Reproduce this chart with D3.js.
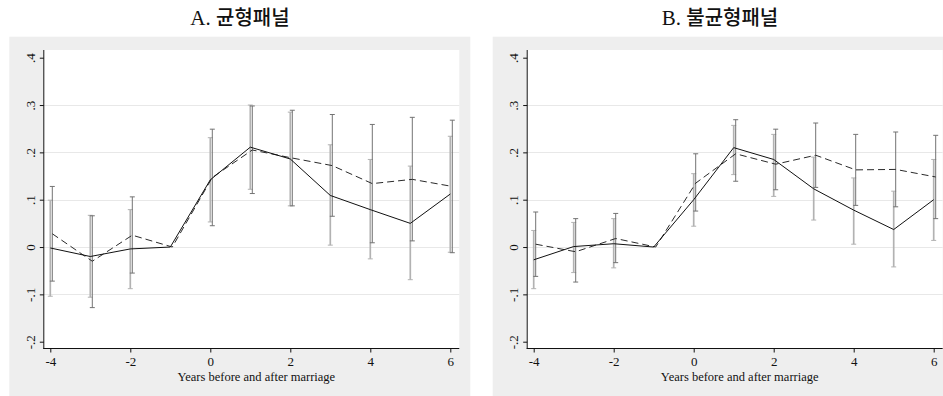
<!DOCTYPE html>
<html>
<head>
<meta charset="utf-8">
<script src="https://cdn.jsdelivr.net/npm/d3@7/dist/d3.min.js"></script>
<style>
  html, body { margin: 0; padding: 0; background: #ffffff; }
  svg { display: block; }
</style>
</head>
<body>
<svg id="chart" width="943" height="396"></svg>
<script>
// Event-study estimates around marriage (reference year = -1)
const years = [-4, -3, -2, -1, 0, 1, 2, 3, 4, 5, 6];
const xTickValues = [-4, -2, 0, 2, 4, 6];
const yTickValues = [-0.2, -0.1, 0, 0.1, 0.2, 0.3, 0.4];
const yTickLabels = ["-.2", "-.1", "0", ".1", ".2", ".3", ".4"];
const xAxisTitle = "Years before and after marriage";
const panelTitles = [["A. ", "균형패널"], ["B. ", "불균형패널"]];

// Panel A: balanced panel
const solidA   = [-0.002, -0.020, -0.004, 0, 0.142, 0.211, 0.186, 0.109, 0.079, 0.050, 0.112];
const solidALo = [-0.104, -0.106, -0.088, null, 0.053, 0.122, 0.087, 0.004, -0.025, -0.069, -0.011];
const solidAHi = [0.099, 0.067, 0.079, null, 0.231, 0.300, 0.285, 0.216, 0.185, 0.171, 0.234];
const dashA    = [0.028, -0.030, 0.025, 0, 0.147, 0.205, 0.188, 0.172, 0.134, 0.143, 0.128];
const dashALo  = [-0.072, -0.128, -0.055, null, 0.045, 0.113, 0.087, 0.065, 0.009, 0.013, -0.012];
const dashAHi  = [0.128, 0.066, 0.106, null, 0.249, 0.298, 0.289, 0.280, 0.259, 0.274, 0.268];

// Panel B: unbalanced panel
const solidB   = [-0.027, 0.001, 0.007, 0, 0.100, 0.210, 0.185, 0.123, 0.078, 0.037, 0.100];
const solidBLo = [-0.088, -0.054, -0.044, null, 0.044, 0.153, 0.107, 0.057, 0.006, -0.042, 0.014];
const solidBHi = [0.035, 0.052, 0.060, null, 0.155, 0.257, 0.238, 0.190, 0.146, 0.118, 0.185];
const dashB    = [0.006, -0.010, 0.018, 0, 0.135, 0.197, 0.175, 0.194, 0.163, 0.164, 0.148];
const dashBLo  = [-0.062, -0.074, -0.033, null, 0.076, 0.139, 0.121, 0.126, 0.088, 0.085, 0.060];
const dashBHi  = [0.074, 0.060, 0.071, null, 0.197, 0.269, 0.249, 0.262, 0.238, 0.243, 0.236];

const panels = [
  { solid: solidA, solidLo: solidALo, solidHi: solidAHi, dash: dashA, dashLo: dashALo, dashHi: dashAHi },
  { solid: solidB, solidLo: solidBLo, solidHi: solidBHi, dash: dashB, dashLo: dashBLo, dashHi: dashBHi }
];

// Layout
const bgW = 461, bgTop = 36.7, bgH = 396 - 36.7;
const bgLefts = [9.3, 492.7];
const titleCenters = [240, 720];
const plotOffX = 34, plotTop = 50, plotW = 416, plotH = 299;
const dashShift = 0.05;   // small horizontal offset between the two series
const serif = "'Liberation Serif', 'Times New Roman', serif";

const svg = d3.select("#chart");

panels.forEach((p, i) => {
  const bx = bgLefts[i];
  const px = bx + plotOffX;

  // panel background
  svg.append("rect")
    .attr("x", bx).attr("y", bgTop).attr("width", bgW).attr("height", bgH)
    .attr("fill", "#eeeeee");

  // title
  const t = svg.append("text")
    .attr("x", titleCenters[i]).attr("y", 25)
    .attr("text-anchor", "middle").attr("fill", "#111");
  t.append("tspan").text(panelTitles[i][0])
    .attr("font-family", serif).attr("font-size", 21);
  t.append("tspan").text(panelTitles[i][1])
    .attr("font-family", "'Noto Sans CJK KR', sans-serif").attr("font-size", 20)
    .attr("font-weight", 500);

  const g = svg.append("g").attr("transform", `translate(${px},${plotTop})`);

  g.append("rect").attr("width", plotW).attr("height", plotH).attr("fill", "#ffffff");

  const x = d3.scaleLinear().domain([-4, 6]).range([7, 407]);
  const y = d3.scaleLinear().domain([-0.2, 0.4]).range([291.7, 7.7]);

  // horizontal grid (interior ticks only)
  g.selectAll(".grid").data(yTickValues.filter(v => v > -0.2 && v < 0.4)).enter()
    .append("line")
    .attr("x1", 0).attr("x2", plotW)
    .attr("y1", d => Math.round(y(d)) + 0.5).attr("y2", d => Math.round(y(d)) + 0.5)
    .attr("stroke", "#e8e8e8").attr("stroke-width", 1.2);

  // error bars
  function errorBars(lo, hi, shift, color, width) {
    const rows = years.map((yr, k) => ({ yr: yr + shift, lo: lo[k], hi: hi[k] }))
      .filter(r => r.lo !== null && r.hi !== null);
    const eg = g.append("g").attr("stroke", color).attr("stroke-width", width).attr("fill", "none");
    rows.forEach(r => {
      const cx = x(r.yr);
      eg.append("line").attr("x1", cx).attr("x2", cx).attr("y1", y(r.lo)).attr("y2", y(r.hi));
      eg.append("line").attr("x1", cx - 2.5).attr("x2", cx + 2.5).attr("y1", y(r.lo)).attr("y2", y(r.lo))
        .attr("stroke-width", 1);
      eg.append("line").attr("x1", cx - 2.5).attr("x2", cx + 2.5).attr("y1", y(r.hi)).attr("y2", y(r.hi))
        .attr("stroke-width", 1);
    });
  }
  errorBars(p.solidLo, p.solidHi, 0, "#b2b2b2", 1.7);
  errorBars(p.dashLo, p.dashHi, dashShift, "#737373", 1);

  // point-estimate lines
  const lineSolid = d3.line().x((d, k) => x(years[k])).y(d => y(d));
  const lineDash = d3.line().x((d, k) => x(years[k] + dashShift)).y(d => y(d));
  g.append("path").attr("d", lineDash(p.dash))
    .attr("fill", "none").attr("stroke", "#2a2a2a").attr("stroke-width", 1)
    .attr("stroke-dasharray", "7,4");
  g.append("path").attr("d", lineSolid(p.solid))
    .attr("fill", "none").attr("stroke", "#111").attr("stroke-width", 1);

  // axes
  const yAxis = d3.axisLeft(y).tickValues(yTickValues).tickSize(4).tickFormat("");
  const yg = g.append("g").attr("transform", "translate(0.5,0)").call(yAxis);
  yg.select(".domain").attr("d", `M0,0V${plotH}`).attr("stroke", "#111");
  yg.selectAll(".tick line").attr("stroke", "#111");
  yg.selectAll(".tick").append("text")
    .attr("transform", "translate(-9,0) rotate(-90)")
    .attr("text-anchor", "middle")
    .attr("fill", "#111")
    .attr("font-family", serif).attr("font-size", 13)
    .text((d, k) => yTickLabels[k]);

  const xAxis = d3.axisBottom(x).tickValues(xTickValues).tickSize(4).tickFormat(d3.format("d"));
  const xg = g.append("g").attr("transform", `translate(0,${plotH - 0.5})`).call(xAxis);
  xg.select(".domain").attr("d", `M0,0H${plotW}`).attr("stroke", "#111");
  xg.selectAll(".tick line").attr("stroke", "#111");
  xg.selectAll(".tick text")
    .attr("y", 0).attr("dy", 17)
    .attr("fill", "#111")
    .attr("font-family", serif).attr("font-size", 13)
    .text(d => d < 0 ? "-" + Math.abs(d) : String(d));

  g.append("text")
    .attr("x", plotW / 2 + 5).attr("y", 330.5)
    .attr("text-anchor", "middle").attr("fill", "#111")
    .attr("font-family", serif).attr("font-size", 12.5)
    .text(xAxisTitle);
});
</script>
</body>
</html>
